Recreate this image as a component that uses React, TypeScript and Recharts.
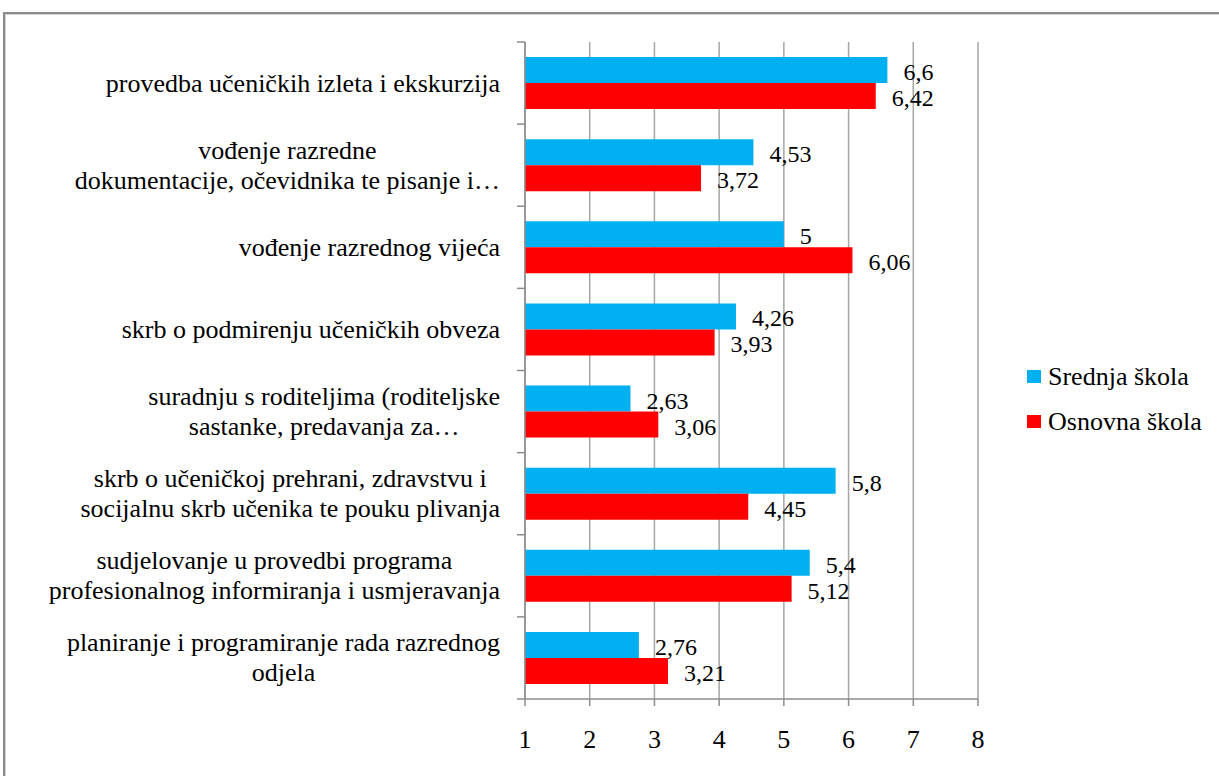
import React from 'react';
import { BarChart, Bar, XAxis, YAxis, CartesianGrid, Legend, LabelList } from 'recharts';

const categories = [
  'provedba učeničkih izleta i ekskurzija',
  'vođenje razredne\ndokumentacije, očevidnika te pisanje i…',
  'vođenje razrednog vijeća',
  'skrb o podmirenju učeničkih obveza',
  'suradnju s roditeljima (roditeljske\nsastanke, predavanja za…',
  'skrb o učeničkoj prehrani, zdravstvu i\nsocijalnu skrb učenika te pouku plivanja',
  'sudjelovanje u provedbi programa\nprofesionalnog informiranja i usmjeravanja',
  'planiranje i programiranje rada razrednog\nodjela',
];
const srednjaSkola = [6.6, 4.53, 5, 4.26, 2.63, 5.8, 5.4, 2.76];
const osnovnaSkola = [6.42, 3.72, 6.06, 3.93, 3.06, 4.45, 5.12, 3.21];
const xTicks = [1, 2, 3, 4, 5, 6, 7, 8];
const seriesNames = ['Srednja škola', 'Osnovna škola'];
const seriesColors = ['#00B0F0', '#FF0000'];

const data = categories.map((name, i) => ({
  name,
  srednja: srednjaSkola[i],
  osnovna: osnovnaSkola[i],
}));

const FONT = "Liberation Serif, Tinos, Times New Roman, Times, Nimbus Roman, DejaVu Serif, serif";
const FS = 26;
const VFS = 24;
const AXIS_COLOR = '#8c8c8c';
const GRID_COLOR = '#a6a6a6';
const Y_TICK = 8;
const Y_MARGIN = 17;
const LINE_H = 30;

let ctx: CanvasRenderingContext2D | null = null;
function measure(t: string): number {
  if (!ctx) ctx = document.createElement('canvas').getContext('2d');
  if (!ctx) return t.length * FS * 0.45;
  ctx.font = `${FS}px ${FONT}`;
  return ctx.measureText(t).width;
}

const fmt = (v: number) => String(v).replace('.', ',');

const CategoryTick = (props: any) => {
  const { x, y, payload, index, visibleTicksCount } = props;
  const axisX = x + Y_TICK + Y_MARGIN;
  const half = payload && payload.offset ? payload.offset : 0;
  const lines = String(payload.value).split('\n');
  const maxW = Math.max(...lines.map(measure));
  const cx = x - maxW / 2;
  const startY = y - ((lines.length - 1) * LINE_H) / 2;
  return (
    <g>
      <line x1={axisX - Y_TICK} x2={axisX} y1={y - half} y2={y - half} stroke={AXIS_COLOR} strokeWidth={1.5} />
      {index === visibleTicksCount - 1 && (
        <line x1={axisX - Y_TICK} x2={axisX} y1={y + half} y2={y + half} stroke={AXIS_COLOR} strokeWidth={1.5} />
      )}
      {lines.map((l, i) => (
        <text
          key={i}
          x={cx}
          y={startY + i * LINE_H}
          textAnchor="middle"
          dominantBaseline="central"
          fontSize={FS}
          fontFamily={FONT}
          fill="#000"
        >
          {l}
        </text>
      ))}
    </g>
  );
};

const ValueLabel = (props: any) => {
  const { x, y, width, height, value } = props;
  return (
    <text
      x={Number(x) + Number(width) + 16}
      y={Number(y) + Number(height) / 2 + 2}
      dominantBaseline="central"
      fontSize={VFS}
      fontFamily={FONT}
      fill="#000"
    >
      {fmt(Number(value))}
    </text>
  );
};

const LegendContent = () => (
  <div style={{ fontFamily: FONT, fontSize: FS, color: '#000' }}>
    {seriesNames.map((n, i) => (
      <div key={n} style={{ display: 'flex', alignItems: 'center', height: 45 }}>
        <span style={{ display: 'inline-block', width: 14, height: 13, background: seriesColors[i], marginRight: 7 }} />
        <span>{n}</span>
      </div>
    ))}
  </div>
);

export default function App() {
  return (
    <div style={{ position: 'absolute', left: 0, top: 0, width: 1219, height: 776, overflow: 'hidden', background: '#fff' }}>
      <div
        style={{
          position: 'absolute',
          left: 3,
          top: 12,
          width: 1400,
          height: 1000,
          borderLeft: '2px solid #8a8a8a',
          borderTop: '2px solid #8a8a8a',
          boxShadow: 'inset 1px 1px 0 #d4d4d4',
        }}
      />
      <div style={{ position: 'absolute', left: 0, top: 0 }}>
        <BarChart
          width={1219}
          height={776}
          data={data}
          layout="vertical"
          margin={{ top: 42, right: 241, bottom: 0, left: 0 }}
          barGap={0}
        >
          <CartesianGrid horizontal={false} vertical stroke={GRID_COLOR} strokeWidth={1.5} />
          <XAxis
            type="number"
            domain={[1, 8]}
            ticks={xTicks}
            allowDataOverflow
            height={77}
            axisLine={{ stroke: AXIS_COLOR, strokeWidth: 1.5 }}
            tickLine={{ stroke: AXIS_COLOR, strokeWidth: 1.5 }}
            tickSize={7}
            tickMargin={24}
            tick={{ fill: '#000', fontSize: FS, fontFamily: FONT }}
          />
          <YAxis
            type="category"
            dataKey="name"
            width={525}
            axisLine={{ stroke: AXIS_COLOR, strokeWidth: 1.5 }}
            tickLine={false}
            tickSize={Y_TICK}
            tickMargin={Y_MARGIN}
            tick={<CategoryTick />}
            interval={0}
          />
          <Legend
            layout="vertical"
            verticalAlign="middle"
            align="center"
            content={<LegendContent />}
            wrapperStyle={{ position: 'absolute', left: 1027, top: 354, width: 190, height: 90 }}
          />
          <Bar dataKey="srednja" name={seriesNames[0]} fill={seriesColors[0]} barSize={26} isAnimationActive={false}>
            <LabelList dataKey="srednja" content={<ValueLabel />} />
          </Bar>
          <Bar dataKey="osnovna" name={seriesNames[1]} fill={seriesColors[1]} barSize={26} isAnimationActive={false}>
            <LabelList dataKey="osnovna" content={<ValueLabel />} />
          </Bar>
        </BarChart>
      </div>
    </div>
  );
}
